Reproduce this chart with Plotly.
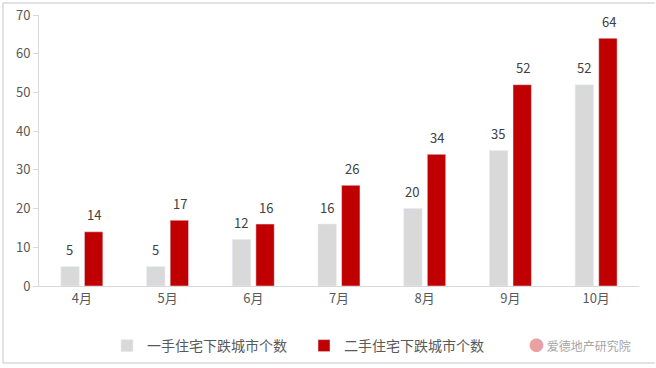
import plotly.graph_objects as go

months = ["4月", "5月", "6月", "7月", "8月", "9月", "10月"]
new_home = [5, 5, 12, 16, 20, 35, 52]
resale_home = [14, 17, 16, 26, 34, 52, 64]
name_new = "一手住宅下跌城市个数"
name_resale = "二手住宅下跌城市个数"
y_ticks = [0, 10, 20, 30, 40, 50, 60, 70]

FONT = "Noto Sans CJK SC"
L, R, T, B = 39, 17, 15, 82
W, H = 656, 368
PW, PH = W - L - R, H - T - B


def px_x(px):
    return (px - L) / PW


def px_y(py):
    return (H - B - py) / PH


fig = go.Figure()
fig.add_trace(go.Bar(x=months, y=new_home, name=name_new, marker_color="#D9D9D9"))
fig.add_trace(go.Bar(x=months, y=resale_home, name=name_resale, marker_color="#C00000"))

# value labels above bars
for vals, shift in ((new_home, -12.5), (resale_home, 12.5)):
    for m, v in zip(months, vals):
        fig.add_annotation(x=m, y=v, xref="x", yref="y", text=str(v), showarrow=False,
                           xshift=shift, yshift=17, yanchor="middle",
                           font=dict(size=13, color="#404040", family=FONT))

fig.update_layout(
    width=W, height=H,
    margin=dict(l=L, r=R, t=T, b=B, autoexpand=False),
    paper_bgcolor="white", plot_bgcolor="white",
    font=dict(family=FONT, color="#595959", size=12),
    barmode="group", bargap=0.45, bargroupgap=0.22,
    showlegend=True,
    legend=dict(orientation="h", x=px_x(107), xanchor="left",
                y=px_y(346), yanchor="middle",
                font=dict(size=14, color="#595959"), entrywidth=152,
                bgcolor="rgba(0,0,0,0)", traceorder="normal"),
    xaxis=dict(showline=True, linecolor="#D9D9D9", linewidth=1, ticks="",
               tickfont=dict(size=13, color="#595959"), showgrid=False, automargin=False),
    yaxis=dict(range=[0, 70], tickvals=y_ticks, showline=True, linecolor="#D9D9D9",
               ticks="outside", ticklen=5, tickcolor="#D9D9D9", showgrid=False,
               zeroline=False, tickfont=dict(size=13, color="#595959"), automargin=False),
)

# outer light border lines of the image (top, left, bottom)
border = dict(color="#D9D9D9", width=1.5)
fig.add_shape(type="line", xref="paper", yref="paper", x0=px_x(3), x1=px_x(W - 1),
              y0=px_y(3), y1=px_y(3), line=border)
fig.add_shape(type="line", xref="paper", yref="paper", x0=px_x(3), x1=px_x(3),
              y0=px_y(3), y1=px_y(363), line=border)
fig.add_shape(type="line", xref="paper", yref="paper", x0=px_x(3), x1=px_x(W - 1),
              y0=px_y(363), y1=px_y(363), line=border)

# watermark
fig.add_annotation(xref="paper", yref="paper", x=px_x(527), y=px_y(344),
                   xanchor="left", yanchor="middle", showarrow=False,
                   text="<span style='color:#E8A0A0;font-size:15px'>●</span> 爱德地产研究院",
                   font=dict(size=12, color="#A6A6A6", family=FONT))

fig.write_html("out.html", config={"displayModeBar": False},
               post_script="document.body.style.margin='0';document.body.style.overflow='hidden';")
